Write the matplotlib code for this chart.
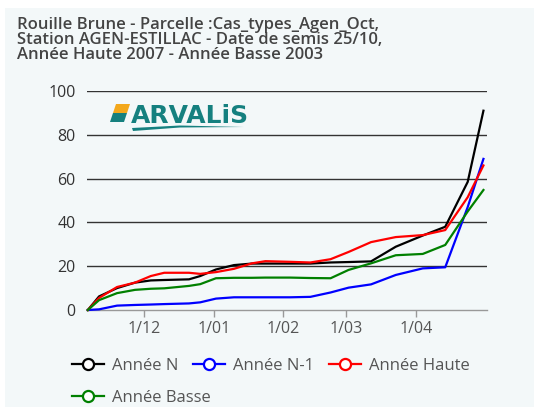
import numpy as np
import matplotlib.pyplot as plt
from matplotlib.patches import Rectangle, Polygon

# data (cumulative values)
dates = ['2022-11-06', '2022-11-11', '2022-11-19', '2022-11-27', '2022-12-04',
         '2022-12-10', '2022-12-21', '2022-12-26', '2023-01-02', '2023-01-10',
         '2023-01-18', '2023-01-24', '2023-02-04', '2023-02-13', '2023-02-22',
         '2023-03-02', '2023-03-12', '2023-03-23', '2023-04-04', '2023-04-14',
         '2023-04-24', '2023-05-01']
annee_n = [0, 6.2, 10, 12.5, 13.5, 13.7, 14, 15.5, 18.5, 20.5, 21.2, 21.2, 21.2,
           21.2, 21.7, 21.9, 22.2, 28.9, 34, 38, 58.5, 91]
annee_n1 = [0, 0.3, 2, 2.3, 2.5, 2.7, 3, 3.5, 5.2, 5.8, 5.8, 5.8, 5.8, 6, 8,
            10.2, 11.7, 16, 19, 19.5, 47, 69]
annee_haute = [0, 5.5, 10.5, 12.5, 15.5, 17, 17, 16.5, 17.3, 18.8, 21.3, 22.3,
               22, 21.7, 23.2, 26.5, 31, 33.3, 34.2, 36.5, 51.5, 66]
annee_basse = [0, 4.5, 7.7, 9.2, 9.7, 9.9, 11, 11.8, 14.5, 14.7, 14.7, 14.8,
               14.8, 14.6, 14.5, 18.3, 21.3, 25, 25.6, 29.7, 45, 54.8]

series = ['Année N', 'Année N-1', 'Année Haute', 'Année Basse']
colors = ['black', 'blue', 'red', 'green']
month_ticks = ['2022-12-01', '2023-01-01', '2023-02-01', '2023-03-01', '2023-04-01']
month_labels = ['1/12', '1/01', '1/02', '1/03', '1/04']
y_ticks = [0, 20, 40, 60, 80, 100]

title = ("Rouille Brune - Parcelle :Cas_types_Agen_Oct,\n"
         "Station AGEN-ESTILLAC - Date de semis 25/10,\n"
         "Année Haute 2007 - Année Basse 2003")

plt.rcParams['font.family'] = ['Open Sans', 'DejaVu Sans']

W, H = 534, 407
fig = plt.figure(figsize=(W / 100, H / 100), dpi=100)
fig.patch.set_facecolor('white')
fig.patches.append(Rectangle((5 / W, 0), 1, 1 - 8 / H, transform=fig.transFigure,
                             facecolor='#f3f8f9', edgecolor='none', zorder=-10))

ax = fig.add_axes([86.7 / W, 1 - 310 / H, (487 - 86.7) / W, (310 - 91) / H])
ax.set_facecolor('none')

x = np.array(dates, dtype='datetime64[D]')
handles = []
for name, vals, c in zip(series, [annee_n, annee_n1, annee_haute, annee_basse], colors):
    ax.plot(x, vals, color=c, lw=1.6, zorder=3, clip_on=False)
    h, = ax.plot([], [], color=c, lw=1.6, marker='o', markersize=8,
                 markerfacecolor='white', markeredgewidth=1.6, label=name)
    handles.append(h)

ax.set_xlim(np.datetime64('2022-11-05T12:00'), np.datetime64('2023-05-02T14:00'))
ax.set_ylim(0, 100)
ax.set_xticks(np.array(month_ticks, dtype='datetime64[D]'))
ax.set_xticklabels(month_labels)
ax.set_yticks(y_ticks)
ax.tick_params(axis='x', length=5, width=1, color='#999999', labelsize=11.5,
               labelcolor='#555555', pad=3)
ax.tick_params(axis='y', length=0, labelsize=11.5, labelcolor='#333333', pad=8)
for g in y_ticks[1:]:
    ax.axhline(g, color='#333333', lw=1, zorder=1)
for s in ['top', 'right', 'left']:
    ax.spines[s].set_visible(False)
ax.spines['bottom'].set_color('#999999')
ax.spines['bottom'].set_linewidth(1)

# title: baseline of the last line at y=59 px
fig.text(17 / W, 1 - 59 / H, title, ha='left', va='baseline', fontsize=12,
         fontweight='semibold', color='#444444', linespacing=0.92)

# ARVALIS logo
teal = '#15807f'
fig.patches.append(Polygon([(116 / W, 1 - 104 / H), (130 / W, 1 - 104 / H),
                            (127 / W, 1 - 113 / H), (113 / W, 1 - 113 / H)],
                           closed=True, transform=fig.transFigure,
                           facecolor='#f3a81c', edgecolor='none'))
fig.patches.append(Polygon([(113 / W, 1 - 113 / H), (127 / W, 1 - 113 / H),
                            (124 / W, 1 - 122 / H), (110 / W, 1 - 122 / H)],
                           closed=True, transform=fig.transFigure,
                           facecolor=teal, edgecolor='none'))
fig.text(131 / W, 1 - 123 / H, 'ARVALiS', ha='left', va='baseline', fontsize=18,
         fontweight='bold', color=teal, family='DejaVu Sans')
fig.patches.append(Polygon([(132 / W, 1 - 128 / H), (180 / W, 1 - 125.5 / H),
                            (244 / W, 1 - 127 / H), (180 / W, 1 - 127.5 / H),
                            (133 / W, 1 - 131 / H)],
                           closed=True, transform=fig.transFigure,
                           facecolor=teal, edgecolor='none'))

leg_kw = dict(frameon=False, fontsize=12, handlelength=1.9, handletextpad=0.5,
              columnspacing=0.9, borderpad=0, borderaxespad=0, labelcolor='#555555')
fig.legend(handles=handles[:3], loc='center left', ncol=3,
           bbox_to_anchor=(72 / W, 1 - 366 / H), **leg_kw)
fig.legend(handles=handles[3:], loc='center left', ncol=1,
           bbox_to_anchor=(72 / W, 1 - 398 / H), **leg_kw)

fig.savefig('out.png', dpi=100)
